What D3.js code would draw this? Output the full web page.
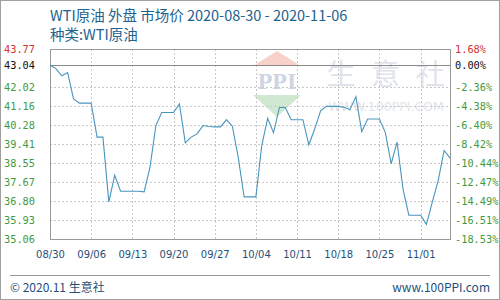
<!DOCTYPE html>
<meta charset="utf-8">
<style>
body { margin: 0; background: #fff; }
svg { display: block; font-family: "DejaVu Sans Mono", monospace; }
.grid line { stroke: #c8c8c8; stroke-dasharray: 2,2; shape-rendering: crispEdges; }
.grid path { display: none; }
.line { fill: none; stroke: #4a95bd; stroke-width: 1.1; }
</style>
<body>
<script src="https://d3js.org/d3.v7.min.js"></script>
<script>

// first day of the series and its daily prices (USD/bbl)
var startDate = "2020-08-30";
var prices = [
  43.04, 42.87, 42.54, 42.69, 41.48, 41.29, 41.29, 41.29, 39.73, 39.73,
  36.76, 37.98, 37.25, 37.25, 37.25, 37.25, 37.22, 38.35, 40.26, 40.86,
  40.86, 40.86, 41.25, 39.47, 39.73, 39.88, 40.26, 40.22, 40.20, 40.20,
  40.53, 40.23, 38.80, 36.99, 36.99, 36.99, 39.35, 40.59, 39.93, 41.09,
  41.09, 40.53, 40.53, 40.53, 39.38, 40.10, 40.94, 41.14, 41.14, 41.14,
  41.10, 40.99, 41.59, 39.98, 40.56, 40.56, 40.56, 39.95, 38.51, 39.50,
  37.37, 36.15, 36.15, 36.15, 35.73, 36.76, 37.75, 39.12, 38.77
];

// axis ticks
var yTicks = [35.06, 35.93, 36.80, 37.67, 38.55, 39.41, 40.28, 41.16, 42.02, 43.04, 43.77];
var pctLabels = ["-18.53%", "-16.51%", "-14.49%", "-12.47%", "-10.44%", "-8.42%", "-6.40%", "-4.38%", "-2.36%", "0.00%", "1.68%"];
var xTickLabels = ["08/30", "09/06", "09/13", "09/20", "09/27", "10/04", "10/11", "10/18", "10/25", "11/01"];
var basePrice = 43.04;

var margin = {top: 49, right: 50, bottom: 61, left: 50},
    W = 500, H = 300,
    width = W - margin.left - margin.right,
    height = H - margin.top - margin.bottom;

var parseDay = d3.timeParse("%Y-%m-%d");
var parseTick = d3.timeParse("%Y/%m/%d");
var t0 = parseDay(startDate);
var data = prices.map(function(v, i) { return {date: d3.timeDay.offset(t0, i), value: v}; });
var xDates = xTickLabels.map(function(s) { return parseTick("2020/" + s); });

var x = d3.scaleTime()
    .domain([t0, data[data.length - 1].date])
    .range([0, width]);
var y = d3.scaleLinear()
    .domain([yTicks[0], yTicks[yTicks.length - 1]])
    .range([height, 0]);

var svg = d3.select("body").append("svg")
    .attr("width", W)
    .attr("height", H);

// outer frame
svg.append("rect")
    .attr("x", 0.5).attr("y", 0.5)
    .attr("width", W - 1).attr("height", H - 1)
    .attr("fill", "none").attr("stroke", "#a0a0a0");

// titles
svg.append("text")
    .attr("x", 50).attr("y", 21)
    .style("font-family", "'Noto Sans CJK SC', sans-serif")
    .style("font-size", "14.5px")
    .attr("fill", "#22628f")
    .text("WTI原油 外盘 市场价 2020-08-30 - 2020-11-06");
svg.append("text")
    .attr("x", 50).attr("y", 40)
    .style("font-family", "'Noto Sans CJK SC', sans-serif")
    .style("font-size", "14.5px")
    .attr("fill", "#22628f")
    .text("种类:WTI原油");

var g = svg.append("g")
    .attr("transform", "translate(" + margin.left + "," + margin.top + ")");

// watermark
var wm = g.append("g").attr("opacity", 0.6);
wm.append("path")
    .attr("d", "M227,2 L251,17 L203,17 Z")
    .attr("fill", "#f4b4aa");
wm.append("path")
    .attr("d", "M203,46 L251,46 L227,68 Z")
    .attr("fill", "#b4dab2");
wm.append("text")
    .attr("x", 227).attr("y", 40)
    .attr("text-anchor", "middle")
    .style("font-family", "'Liberation Serif', serif")
    .style("font-size", "24px").style("font-weight", "bold")
    .attr("fill", "#b0b8d4")
    .text("PPI");
wm.selectAll(".wmchar")
    .data(["生", "意", "社"])
  .enter().append("text")
    .attr("class", "wmchar")
    .attr("x", function(d, i) { return 291 + i * 44.5; })
    .attr("y", 36)
    .attr("text-anchor", "middle")
    .style("font-family", "'Noto Sans CJK SC', sans-serif")
    .style("font-size", "29px")
    .attr("fill", "#cdd2de")
    .text(function(d) { return d; });
wm.append("text")
    .attr("x", 336).attr("y", 62)
    .attr("text-anchor", "middle")
    .style("font-family", "'DejaVu Sans', sans-serif")
    .style("font-size", "12.5px")
    .attr("fill", "#cdd2de")
    .text("WWW.100PPI.COM");

// horizontal grid
g.append("g")
    .attr("class", "grid")
    .call(d3.axisLeft(y).tickValues(yTicks.filter(function(v) { return v !== basePrice; }))
      .tickSize(-width).tickFormat(""));

// vertical grid
g.append("g")
    .attr("class", "grid")
    .attr("transform", "translate(0," + height + ")")
    .call(d3.axisBottom(x).tickValues(xDates.slice(1)).tickSize(-height).tickFormat(""));

// base price line
g.append("line")
    .attr("x1", 0).attr("x2", width)
    .attr("y1", Math.round(y(basePrice)) + 0.5).attr("y2", Math.round(y(basePrice)) + 0.5)
    .attr("stroke", "#8a8a8a");

// plot frame
g.append("rect")
    .attr("x", 0.5).attr("y", 0.5)
    .attr("width", width).attr("height", height)
    .attr("fill", "none").attr("stroke", "#999");

// price line
var line = d3.line()
    .x(function(d) { return x(d.date); })
    .y(function(d) { return y(d.value); });
g.append("path")
    .datum(data)
    .attr("class", "line")
    .attr("d", line);

function tickColor(i) {
  if (i === yTicks.length - 1) return "#cc3333";
  if (yTicks[i] === basePrice) return "#111";
  return "#3f9a3f";
}

// left axis: prices
var yl = g.append("g")
    .attr("transform", "translate(-15,0)")
    .call(d3.axisLeft(y).tickValues(yTicks).tickSize(0).tickPadding(0)
      .tickFormat(d3.format(".2f")));
yl.select(".domain").remove();
yl.selectAll("text")
    .style("font-size", "10.3px")
    .style("font-family", "'DejaVu Sans Mono', monospace")
    .attr("fill", function(d, i) { return tickColor(i); });

// right axis: change vs. base price
var yr = g.append("g")
    .attr("transform", "translate(" + width + ",0)")
    .call(d3.axisRight(y).tickValues(yTicks).tickSize(0).tickPadding(5)
      .tickFormat(function(d, i) { return pctLabels[i]; }));
yr.select(".domain").remove();
yr.selectAll("text")
    .style("font-size", "10.3px")
    .style("font-family", "'DejaVu Sans Mono', monospace")
    .attr("fill", function(d, i) { return tickColor(i); });

// bottom axis: dates
var xa = g.append("g")
    .attr("transform", "translate(0," + height + ")")
    .call(d3.axisBottom(x).tickValues(xDates).tickSize(0).tickPadding(12)
      .tickFormat(function(d, i) { return xTickLabels[i]; }));
xa.select(".domain").remove();
xa.selectAll("text")
    .style("font-size", "10px")
    .style("font-family", "'DejaVu Sans', sans-serif")
    .attr("fill", "#1f4f7a");

// footer
svg.append("line")
    .attr("x1", 10).attr("x2", 490)
    .attr("y1", 275.5).attr("y2", 275.5)
    .attr("stroke", "#999");
svg.append("text")
    .attr("x", 10).attr("y", 292)
    .style("font-family", "'Noto Sans CJK SC', sans-serif")
    .style("font-size", "12px")
    .attr("fill", "#1f4f7a")
    .text("© 2020.11 生意社");
svg.append("text")
    .attr("x", 490).attr("y", 292)
    .attr("text-anchor", "end")
    .style("font-family", "'Noto Sans CJK SC', sans-serif")
    .style("font-size", "12px")
    .attr("fill", "#1f4f7a")
    .text("www.100PPI.com");

</script>
</body>
